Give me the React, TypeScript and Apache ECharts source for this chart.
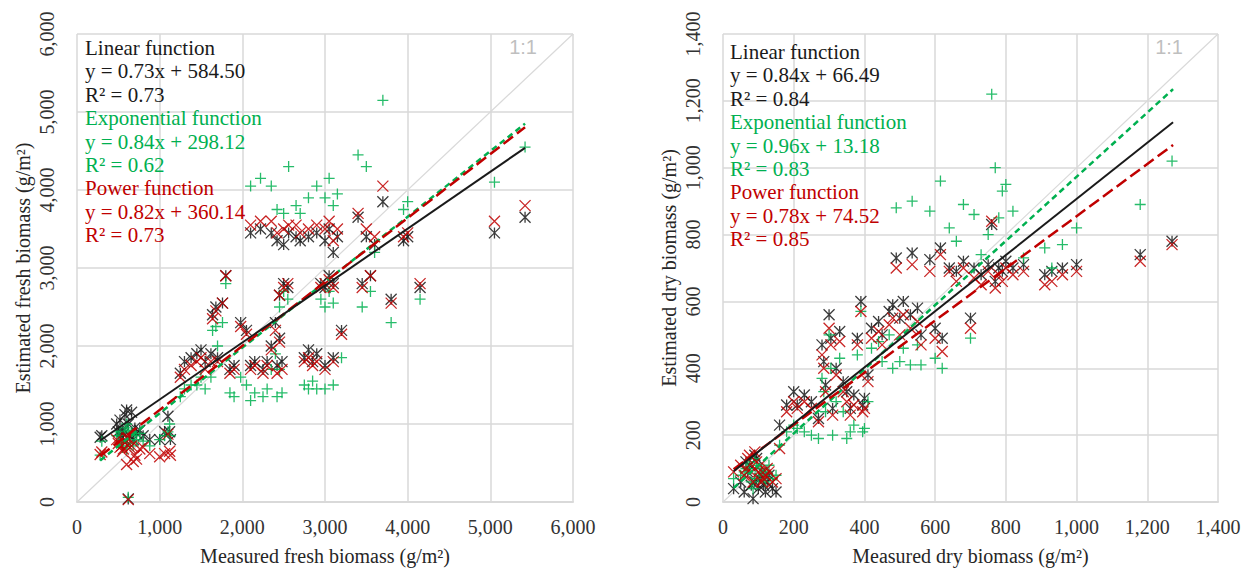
import React, { useEffect, useRef } from "react";
import * as echarts from "echarts";

// ---------- Fresh biomass (left panel) ----------
const freshMeasured = [
  280, 300, 480, 520, 550, 580, 600, 620, 640, 660, 700, 720, 540, 560, 600, 680, 760, 800, 880, 1000, 1060, 1100, 1120, 1130, 500, 620,
  1250, 1300, 1380, 1450, 1500, 1550, 1620, 1700,
  1640, 1680, 1760, 1800,
  1850, 1900, 1980, 2050, 2100, 2150, 2250, 2300, 2350, 2400, 2420, 2450, 2480,
  2100, 2220, 2350, 2420, 2500, 2560, 2650, 2700,
  2450, 2500, 2550,
  2750, 2800, 2850, 2900, 3000, 3100,
  2800, 2900, 3000, 3050, 3100, 3150,
  2950, 3000, 3050, 3100,
  3200, 3400, 3450, 3500, 3550, 3600, 3700, 3800, 3950, 4000, 4150, 5050, 5420,
];
const freshLinear = [
  830, 850, 1000, 1050, 900, 1120, 1180, 40, 850, 1150, 950, 880, 820, 870, 780, 800, 920, 850, 800, 800, 900, 1100, 900, 800, 900, 1000,
  1650, 1800, 1850, 1900, 1950, 1800, 1900, 1850,
  2400, 2500, 2550, 2900,
  1700, 1750, 2300, 2200, 1750, 1800, 1700, 1800, 2000, 2300, 1750, 2100, 1800,
  3450, 3500, 3450, 3350, 3300, 3450, 3400, 3350,
  2650, 2800, 2750,
  1850, 1950, 1800, 1900, 1750, 1850,
  3400, 3450, 3350, 3500, 3200, 3400,
  2800, 2750, 2900, 2800,
  2200, 3650, 2800, 3400, 2900, 3300, 3850, 2600, 3350, 3400, 2750, 3450, 3650,
];
const freshExp = [
  600, 780, 850, 900, 700, 950, 1000, 60, 750, 900, 850, 800, 760, 720, 680, 720, 880, 780, 720, 800, 850, 900, 1000, 850, 850, 920,
  1350, 1450, 1500, 1500, 1600, 1450, 1600, 2000,
  2200, 2250, 2300, 2800,
  1400, 1350, 1600, 1500, 1300, 1400, 1350, 1450, 1700, 1900, 1350, 1700, 1400,
  4050, 4150, 4050, 3750, 3700, 4300, 3800, 3700,
  2500, 2700, 2600,
  1500, 1450, 1550, 1450, 1450, 1500,
  3900, 4050, 3900, 4150, 3800, 3950,
  2600, 2500, 2700, 2550,
  1850, 4450, 2500, 4300, 2700, 3200, 5150, 2300, 3750, 3850, 2600, 4100, 4550,
];
const freshPower = [
  610, 640, 800, 700, 650, 760, 820, 30, 700, 720, 600, 550, 720, 680, 480, 520, 680, 700, 620, 580, 620, 870, 650, 600, 750, 820,
  1600, 1700, 1750, 1800, 1850, 1700, 1800, 1800,
  2350, 2450, 2550, 2900,
  1650, 1700, 2250, 2150, 1700, 1750, 1650, 1750, 1950, 2200, 1650, 2050, 1700,
  3550, 3600, 3600, 3450, 3500, 3550, 3550, 3450,
  2650, 2750, 2800,
  1800, 1850, 1750, 1800, 1700, 1800,
  3500, 3550, 3500, 3600, 3350, 3500,
  2750, 2800, 2850, 2750,
  2150, 3700, 2750, 3500, 2900, 3400, 4050, 2550, 3400, 3450, 2800, 3600, 3800,
];
// fitted lines (endpoints at min / max measured value)
const freshLinearFit = [[280, 789], [5420, 4541]];
const freshExpFit = [[280, 533], [5420, 4851]];
const freshPowerFit = [[280, 590], [5420, 4805]];
const freshOneToOne = [[0, 0], [6000, 6000]];

// ---------- Dry biomass (right panel) ----------
const dryMeasured = [
  30, 50, 60, 70, 75, 80, 85, 90, 95, 100, 105, 110, 115, 120, 125, 130, 140, 150, 90, 65,
  160, 180, 200, 210, 230, 250, 270,
  280, 285, 290, 300, 305, 310, 320, 330, 340, 350, 360, 370, 380, 390, 395, 400, 410,
  420, 440, 450, 470, 480, 500, 510, 530, 550, 560, 600, 620,
  490, 535, 585, 615,
  640, 660, 680, 700, 710, 730, 750, 760, 770, 780, 790, 800, 820, 850,
  910, 930, 960, 1000,
  1180, 1270,
];
const dryLinear = [
  40, 60, 30, 90, 110, 50, 10, 60, 130, 40, 70, 90, 50, 30, 60, 80, 40, 30, 140, 120,
  230, 290, 330, 290, 320, 300, 250,
  470, 420, 350, 560, 490, 280, 400, 510, 360, 330, 280, 320, 490, 600, 290, 310, 380,
  520, 540, 500, 570, 590, 550, 600, 560, 580, 500, 520, 490,
  730, 745, 725, 760,
  700, 690, 720, 550, 700, 680, 710, 830, 660, 700, 690, 720, 700, 710,
  680, 690, 700, 710,
  740, 780,
];
const dryExp = [
  70, 80, 90, 100, 120, 60, 40, 70, 110, 70, 90, 100, 80, 60, 90, 110, 70, 80, 130, 100,
  170, 210, 230, 220, 210, 200, 190,
  370, 330, 270, 500, 400, 200, 300, 430, 270, 190, 210, 230, 440, 570, 210, 220, 300,
  460, 480, 420, 500, 400, 420, 460, 410, 470, 410, 430, 400,
  880, 900, 870, 960,
  820, 780, 890, 490, 860, 740, 800, 1220, 1000, 850, 930, 950, 870, 730,
  760, 700, 770, 820,
  890, 1020,
];
const dryPower = [
  90, 110, 80, 130, 140, 90, 60, 100, 120, 90, 110, 60, 70, 80, 100, 90, 60, 70, 150, 100,
  160, 270, 300, 280, 300, 280, 240,
  440, 400, 330, 520, 470, 260, 380, 480, 330, 300, 260, 290, 470, 570, 270, 280, 360,
  490, 510, 470, 530, 550, 500, 560, 520, 540, 470, 490, 450,
  700, 710, 690, 740,
  690, 660, 700, 520, 670, 650, 690, 840, 640, 680, 660, 700, 680, 690,
  650, 660, 680, 690,
  720, 770,
];
const dryLinearFit = [[30, 92], [1273, 1136]];
const dryExpFit = [[30, 42], [1273, 1235]];
const dryPowerFit = [[30, 98], [1273, 1068]];
const dryOneToOne = [[0, 0], [1400, 1400]];

const freshText = [
  "Linear function", "y = 0.73x + 584.50", "R² = 0.73",
  "Exponential function", "y = 0.84x + 298.12", "R² = 0.62",
  "Power function", "y = 0.82x + 360.14", "R² = 0.73",
];
const dryText = [
  "Linear function", "y = 0.84x + 66.49", "R² = 0.84",
  "Exponential function", "y = 0.96x + 13.18", "R² = 0.83",
  "Power function", "y = 0.78x + 74.52", "R² = 0.85",
];

const BLACK = "#1a1a1a";
const GREEN = "#00b050";
const RED = "#c00000";
const GRID = "#d9d9d9";
const SERIF = "Liberation Serif";

const SYM_STAR = "path://M0,0L10,10M10,0L0,10M5,0L5,10";
const SYM_PLUS = "path://M5,0L5,10M0,5L10,5";
const SYM_CROSS = "path://M0,0L10,10M10,0L0,10";

function zip(xs: number[], ys: number[]) {
  return xs.map((x, i) => [x, ys[i]]);
}

function scatter(idx: number, name: string, data: number[][], symbol: string, color: string, z: number) {
  return {
    type: "scatter",
    name,
    xAxisIndex: idx,
    yAxisIndex: idx,
    data,
    symbol,
    symbolSize: 11,
    z,
    itemStyle: { color: "none", borderColor: color, borderWidth: 1.3, opacity: 0.85 },
    emphasis: { disabled: true },
  };
}

function fitLine(idx: number, data: number[][], color: string, type: any, width: number, z: number) {
  return {
    type: "line",
    xAxisIndex: idx,
    yAxisIndex: idx,
    data,
    symbol: "none",
    z,
    lineStyle: { color, width, type },
    emphasis: { disabled: true },
  };
}

function axisCommon(name: string, max: number, interval: number, isY: boolean) {
  return {
    type: "value",
    min: 0,
    max,
    interval,
    name,
    nameLocation: "middle",
    nameGap: isY ? 44 : 44,
    nameTextStyle: { fontFamily: SERIF, fontSize: 20, color: "#262626" },
    axisLine: { show: !isY, lineStyle: { color: GRID, width: 2 } },
    axisTick: { show: false },
    axisLabel: {
      fontFamily: SERIF,
      fontSize: 20,
      color: "#333333",
      margin: isY ? 20 : 15,
      rotate: isY ? 90 : 0,
    },
    splitLine: { show: true, lineStyle: { color: GRID, width: 1.5 } },
  };
}

function textBlock(lines: string[], x: number, y0: number) {
  const colors = [BLACK, BLACK, BLACK, GREEN, GREEN, GREEN, RED, RED, RED];
  return lines.map((t, i) => ({
    type: "text",
    x,
    y: y0 + i * 23.4,
    z: 100,
    style: {
      text: t,
      fill: colors[i],
      fontFamily: SERIF,
      fontSize: 21,
      verticalAlign: "middle",
      align: "left",
    },
  }));
}

export default function App() {
  const ref = useRef<HTMLDivElement>(null);
  useEffect(() => {
    document.body.style.margin = "0";
    const chart = echarts.init(ref.current!, null, { renderer: "svg" });
    const option: any = {
      animation: false,
      backgroundColor: "#ffffff",
      grid: [
        { left: 77, top: 34, width: 496, height: 474 },
        { left: 723, top: 34, width: 495, height: 474 },
      ],
      xAxis: [
        { gridIndex: 0, ...axisCommon("Measured fresh biomass (g/m²)", 6000, 1000, false) },
        { gridIndex: 1, ...axisCommon("Measured dry biomass (g/m²)", 1400, 200, false) },
      ],
      yAxis: [
        { gridIndex: 0, ...axisCommon("Estimated fresh biomass (g/m²)", 6000, 1000, true) },
        { gridIndex: 1, ...axisCommon("Estimated dry biomass (g/m²)", 1400, 200, true) },
      ],
      series: [
        fitLine(0, freshOneToOne, GRID, "solid", 1.2, 1),
        scatter(0, "Linear", zip(freshMeasured, freshLinear), SYM_STAR, BLACK, 2),
        scatter(0, "Exponential", zip(freshMeasured, freshExp), SYM_PLUS, GREEN, 3),
        scatter(0, "Power", zip(freshMeasured, freshPower), SYM_CROSS, RED, 4),
        fitLine(0, freshExpFit, GREEN, [6, 4], 2.5, 5),
        fitLine(0, freshPowerFit, RED, [12, 5], 2.5, 6),
        fitLine(0, freshLinearFit, BLACK, "solid", 2, 7),

        fitLine(1, dryOneToOne, GRID, "solid", 1.2, 1),
        scatter(1, "Linear", zip(dryMeasured, dryLinear), SYM_STAR, BLACK, 2),
        scatter(1, "Exponential", zip(dryMeasured, dryExp), SYM_PLUS, GREEN, 3),
        scatter(1, "Power", zip(dryMeasured, dryPower), SYM_CROSS, RED, 4),
        fitLine(1, dryExpFit, GREEN, [6, 4], 2.5, 5),
        fitLine(1, dryPowerFit, RED, [12, 5], 2.5, 6),
        fitLine(1, dryLinearFit, BLACK, "solid", 2, 7),
      ],
      graphic: [
        ...textBlock(freshText, 85, 48),
        ...textBlock(dryText, 730, 52),
        {
          type: "text",
          x: 537,
          y: 47,
          style: { text: "1:1", fill: "#bfbfbf", fontFamily: "Liberation Sans", fontSize: 20, align: "right", verticalAlign: "middle" },
        },
        {
          type: "text",
          x: 1183,
          y: 47,
          style: { text: "1:1", fill: "#bfbfbf", fontFamily: "Liberation Sans", fontSize: 20, align: "right", verticalAlign: "middle" },
        },
      ],
    };
    chart.setOption(option);
    return () => chart.dispose();
  }, []);
  return <div ref={ref} style={{ width: 1244, height: 571 }} />;
}
